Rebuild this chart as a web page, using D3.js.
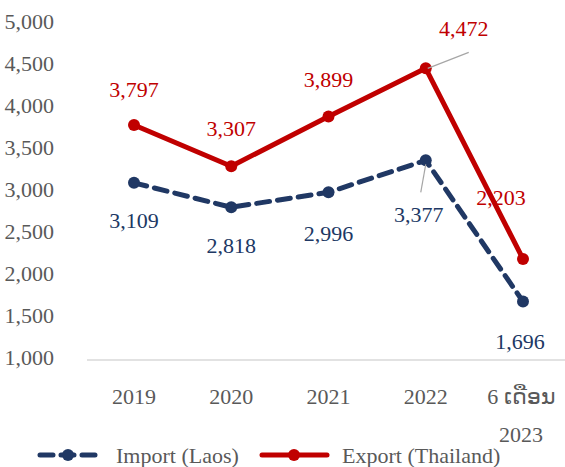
<!DOCTYPE html>
<html>
<head>
<meta charset="utf-8">
<script src="https://cdn.jsdelivr.net/npm/d3@7"></script>
<style>
  body { margin: 0; background: #fff; }
  text { font-family: "Liberation Serif", "Times New Roman", serif; }
</style>
</head>
<body>
<div id="chart"></div>
<script>
// Chart data
const categories = ["2019", "2020", "2021", "2022", "6 ເດືອນ|2023"];
const importLaos = [3109, 2818, 2996, 3377, 1696];
const exportThailand = [3797, 3307, 3899, 4472, 2203];
const yTicks = [1000, 1500, 2000, 2500, 3000, 3500, 4000, 4500, 5000];

const width = 565, height = 467;
const navy = "#203864", red = "#C00000", grey = "#595959";

const svg = d3.select("#chart").append("svg")
    .attr("width", width)
    .attr("height", height);

const x = d3.scalePoint()
    .domain(categories)
    .range([134, 523]);

const y = d3.scaleLinear()
    .domain([1000, 5000])
    .range([360, 24]);

// Baseline
svg.append("line")
    .attr("x1", 87).attr("x2", 565)
    .attr("y1", y(1000)).attr("y2", y(1000))
    .attr("stroke", "#d9d9d9")
    .attr("stroke-width", 1.5);

// Y axis labels
svg.selectAll(".ytick")
    .data(yTicks)
    .enter()
    .append("text")
    .attr("x", 54)
    .attr("y", d => y(d) - 3)
    .attr("dy", "0.35em")
    .attr("text-anchor", "end")
    .style("font-size", "22px")
    .attr("fill", grey)
    .text(d => d3.format(",")(d));

// X axis labels (multi-line where "|" appears)
categories.forEach(c => {
    const parts = c.split("|");
    parts.forEach((p, i) => {
        svg.append("text")
            .attr("x", parts.length > 1 ? x(c) - 2 : x(c))
            .attr("y", 404 + i * 38)
            .attr("text-anchor", "middle")
            .style("font-size", "22px")
            .attr("fill", grey)
            .text(p);
    });
});

const line = d3.line()
    .x((d, i) => x(categories[i]))
    .y(d => y(d));

// Import series (dashed)
svg.append("path")
    .datum(importLaos)
    .attr("d", line)
    .attr("fill", "none")
    .attr("stroke", navy)
    .attr("stroke-width", 5)
    .attr("stroke-dasharray", "13,8")
    .attr("stroke-linecap", "round");

svg.selectAll(".imp-dot")
    .data(importLaos)
    .enter()
    .append("circle")
    .attr("cx", (d, i) => x(categories[i]))
    .attr("cy", d => y(d))
    .attr("r", 6)
    .attr("fill", navy);

// Export series (solid)
svg.append("path")
    .datum(exportThailand)
    .attr("d", line)
    .attr("fill", "none")
    .attr("stroke", red)
    .attr("stroke-width", 5)
    .attr("stroke-linejoin", "round");

svg.selectAll(".exp-dot")
    .data(exportThailand)
    .enter()
    .append("circle")
    .attr("cx", (d, i) => x(categories[i]))
    .attr("cy", d => y(d))
    .attr("r", 6)
    .attr("fill", red);

// Leader lines
svg.append("line")
    .attr("x1", x(categories[3]) + 2).attr("y1", y(exportThailand[3]))
    .attr("x2", x(categories[3]) + 43).attr("y2", y(exportThailand[3]) - 16)
    .attr("stroke", "#a6a6a6").attr("stroke-width", 1.2);
svg.append("line")
    .attr("x1", x(categories[3])).attr("y1", y(importLaos[3]) + 4)
    .attr("x2", x(categories[3]) - 5).attr("y2", y(importLaos[3]) + 32)
    .attr("stroke", "#a6a6a6").attr("stroke-width", 1.2);

// Data labels (offsets in px from marker)
const expOffsets = [[0, -36], [0, -38], [0, -37], [38, -40], [-22, -62]];
const impOffsets = [[0, 37], [0, 38], [0, 41], [-7, 54], [-3, 40]];

svg.selectAll(".exp-label")
    .data(exportThailand)
    .enter()
    .append("text")
    .attr("x", (d, i) => x(categories[i]) + expOffsets[i][0])
    .attr("y", (d, i) => y(d) + expOffsets[i][1])
    .attr("dy", "0.35em")
    .attr("text-anchor", "middle")
    .style("font-size", "22px")
    .attr("fill", red)
    .text(d => d3.format(",")(d));

svg.selectAll(".imp-label")
    .data(importLaos)
    .enter()
    .append("text")
    .attr("x", (d, i) => x(categories[i]) + impOffsets[i][0])
    .attr("y", (d, i) => y(d) + impOffsets[i][1])
    .attr("dy", "0.35em")
    .attr("text-anchor", "middle")
    .style("font-size", "22px")
    .attr("fill", navy)
    .text(d => d3.format(",")(d));

// Legend
const legend = svg.append("g").attr("transform", "translate(0,455)");

legend.append("line")
    .attr("x1", 40).attr("x2", 95)
    .attr("stroke", navy).attr("stroke-width", 5)
    .attr("stroke-dasharray", "13,8")
    .attr("stroke-linecap", "round");
legend.append("circle").attr("cx", 68).attr("r", 6).attr("fill", navy);
legend.append("text")
    .attr("x", 116).attr("dy", "0.35em")
    .style("font-size", "22px").attr("fill", grey)
    .text("Import (Laos)");

legend.append("line")
    .attr("x1", 262).attr("x2", 327)
    .attr("stroke", red).attr("stroke-width", 5)
    .attr("stroke-linecap", "round");
legend.append("circle").attr("cx", 294).attr("r", 6).attr("fill", red);
legend.append("text")
    .attr("x", 342).attr("dy", "0.35em")
    .style("font-size", "22px").attr("fill", grey)
    .text("Export (Thailand)");
</script>
</body>
</html>
